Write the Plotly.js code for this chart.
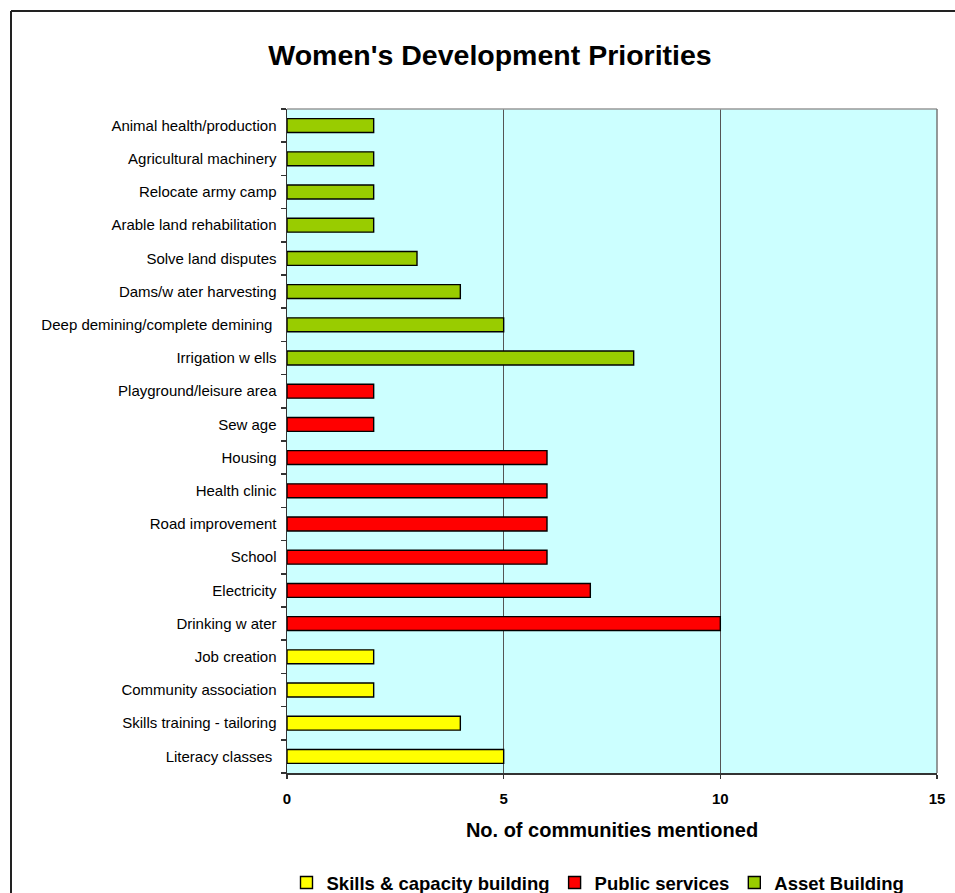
<!DOCTYPE html>
<html>
<head>
<meta charset="utf-8">
<script src="https://cdn.plot.ly/plotly-3.0.1.min.js"></script>
<style>
html,body{margin:0;padding:0;background:#fff;}
#chart{width:955px;height:893px;}
</style>
</head>
<body>
<div id="chart"></div>
<script>
// Categories in axis order (bottom to top)
const categoryOrder = [
  "Literacy classes ", "Skills training - tailoring", "Community association", "Job creation",
  "Drinking w ater", "Electricity", "School", "Road improvement", "Health clinic", "Housing",
  "Sew age", "Playground/leisure area",
  "Irrigation w ells", "Deep demining/complete demining ", "Dams/w ater harvesting",
  "Solve land disputes", "Arable land rehabilitation", "Relocate army camp",
  "Agricultural machinery", "Animal health/production"
];

const skillsCats = ["Literacy classes ", "Skills training - tailoring", "Community association", "Job creation"];
const skillsVals = [5, 4, 2, 2];

const publicCats = ["Drinking w ater", "Electricity", "School", "Road improvement", "Health clinic", "Housing", "Sew age", "Playground/leisure area"];
const publicVals = [10, 7, 6, 6, 6, 6, 2, 2];

const assetCats = ["Irrigation w ells", "Deep demining/complete demining ", "Dams/w ater harvesting", "Solve land disputes", "Arable land rehabilitation", "Relocate army camp", "Agricultural machinery", "Animal health/production"];
const assetVals = [8, 5, 4, 3, 2, 2, 2, 2];

const seriesNames = ["Skills & capacity building", "Public services", "Asset Building"];
const xTicks = [0, 5, 10, 15];

const font = "Liberation Sans, Arial, sans-serif";

function barTrace(name, cats, vals, color) {
  return {
    type: "bar", orientation: "h", name: name,
    x: vals, y: cats, width: 0.42,
    marker: {color: color, line: {color: "#000", width: 1.4}},
    hoverinfo: "x+y"
  };
}

const data = [
  barTrace(seriesNames[0], skillsCats, skillsVals, "#FFFF00"),
  barTrace(seriesNames[1], publicCats, publicVals, "#FF0000"),
  barTrace(seriesNames[2], assetCats, assetVals, "#99CC00")
];

// plot area: x 287..937, y 109..773
const L = 287, R = 937, T = 109, B = 773, W = 955, H = 893;
const px = v => (v - L) / (R - L);
const py = v => (B - v) / (B - T);

const layout = {
  width: W, height: H,
  margin: {l: L, r: W - R, t: T, b: H - B, pad: 0, autoexpand: false},
  paper_bgcolor: "#fff",
  plot_bgcolor: "#CCFFFF",
  barmode: "relative",
  showlegend: true,
  title: {
    text: "<b>Women's Development Priorities</b>",
    font: {family: font, size: 28.5, color: "#000"},
    xref: "container", x: 490 / W, xanchor: "center",
    yref: "container", y: 1 - 55 / H, yanchor: "middle"
  },
  xaxis: {
    range: [0, 15], tickvals: xTicks, ticktext: xTicks.map(String),
    showgrid: true, gridcolor: "#555", gridwidth: 1,
    zeroline: false,
    showline: true, linecolor: "#333", linewidth: 1.5,
    ticks: "outside", ticklen: 4, tickcolor: "#333", tickwidth: 1.5,
    tickfont: {family: font, size: 15, color: "#000", weight: "bold"},
    ticklabelstandoff: 7,
    title: {text: "<b>No. of communities mentioned</b>", font: {family: font, size: 20, color: "#000"}, standoff: 17},
    fixedrange: true
  },
  yaxis: {
    type: "category", categoryorder: "array", categoryarray: categoryOrder,
    range: [-0.5, categoryOrder.length - 0.5],
    showgrid: false, zeroline: false,
    showline: true, linecolor: "#333", linewidth: 1.5,
    ticks: "outside", tickson: "boundaries", ticklen: 5, tickcolor: "#333", tickwidth: 1.5,
    tickfont: {family: font, size: 15, color: "#000"},
    ticklabelstandoff: 6,
    fixedrange: true
  },
  legend: {
    orientation: "h", xref: "container", yref: "container",
    x: 598 / W, xanchor: "center", y: 1 - 883 / H, yanchor: "middle",
    font: {family: font, size: 18.5, color: "#000", weight: "bold"},
    bgcolor: "rgba(0,0,0,0)", itemwidth: 30, traceorder: "normal"
  },
  shapes: [
    // plot frame (top & right, gray)
    {type: "line", xref: "paper", yref: "paper", x0: 0, x1: 1, y0: 1, y1: 1, line: {color: "#999", width: 1.5}},
    {type: "line", xref: "paper", yref: "paper", x0: 1, x1: 1, y0: 0, y1: 1, line: {color: "#777", width: 1.5}},
    // chart outer border (top-left corner at 11,11; right/bottom beyond the picture)
    {type: "line", xref: "paper", yref: "paper", x0: px(11), x1: px(980), y0: py(11), y1: py(11),
     line: {color: "#222", width: 2}, layer: "above"},
    {type: "line", xref: "paper", yref: "paper", x0: px(11), x1: px(11), y0: py(11), y1: py(920),
     line: {color: "#222", width: 2}, layer: "above"}
  ]
};

Plotly.newPlot("chart", data, layout, {displayModeBar: false, staticPlot: true});
</script>
</body>
</html>
